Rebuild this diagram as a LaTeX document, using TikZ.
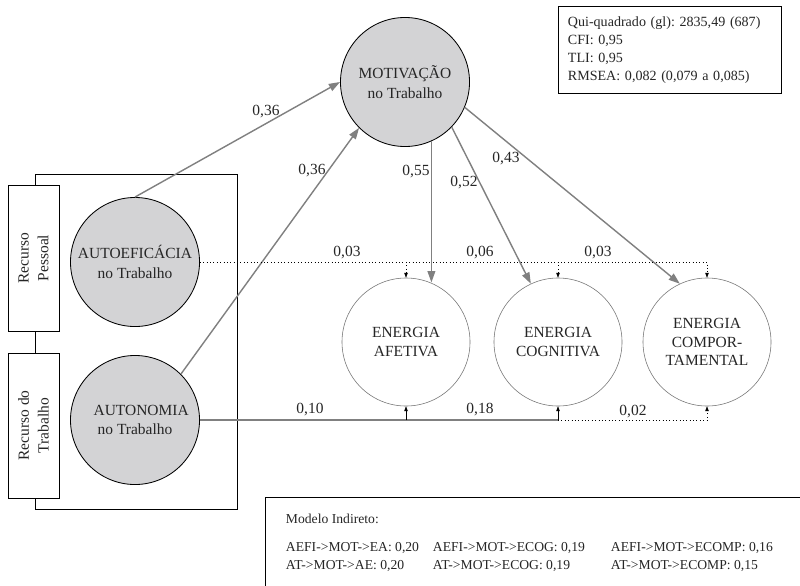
\documentclass[tikz,border=0pt]{standalone}
\usepackage{fontspec}
\setmainfont{Liberation Serif}
\usetikzlibrary{arrows.meta}
\definecolor{cinza}{RGB}{211,211,213}
\definecolor{linha}{RGB}{128,128,128}
\frenchspacing

\begin{document}
\begin{tikzpicture}[x=0.025cm,y=-0.025cm,font=\fontsize{11}{14}\selectfont,text=black!85,
    fator/.style={circle,draw,semithick,fill=cinza,minimum size=3.225cm,inner sep=0pt,align=center},
    energia/.style={circle,draw=black!55,minimum size=3.2cm,inner sep=0pt,align=center,font=\fontsize{11}{13}\selectfont},
    recurso/.style={draw,semithick,fill=white,rotate=90,minimum width=3.65cm,minimum height=1.275cm,inner sep=0pt,align=center},
    efeito/.style={draw=linha,line width=1pt,-{Triangle[length=8pt,width=5.5pt]}},
    residual/.style={dotted,thin,-{Triangle[length=3.5pt,width=2.5pt]}}]
  \useasboundingbox[fill=white] (0,0) rectangle (800,585);

  \draw[semithick] (35,174) rectangle (237,509);
  \node[recurso] (pessoal) at (33.5,258) {Recurso\\Pessoal};
  \node[recurso,minimum width=3.625cm] (trabalho) at (33.5,425.5) {Recurso do\\Trabalho};

  \node[fator] (mot) at (405,82) {MOTIVAÇÃO\\no Trabalho};
  \node[fator] (aef) at (135,262) {AUTOEFICÁCIA\\no Trabalho};
  \node[fator] (aut) at (135,420) {\hspace{0.8em}AUTONOMIA\\no Trabalho};
  \node[energia] (afe) at (406,342) {ENERGIA\\AFETIVA};
  \node[energia] (cog) at (558,342) {ENERGIA\\COGNITIVA};
  \node[energia] (com) at (707,342) {ENERGIA\\COMPOR-\\TAMENTAL};

  \draw[efeito] (aef.90) -- (mot.180);
  \draw[efeito] (aut.45) -- (mot.225);
  \draw[efeito] (mot.-66) -- (mot.-66 |- afe.68);
  \draw[efeito] (mot.-44) -- (cog.115);
  \draw[efeito] (mot.-23) -- (com.115);
  \node at (266,112) {0,36};
  \node at (312,171) {0,36};
  \node at (416,172) {0,55};
  \node at (464,183) {0,52};
  \node at (506,159) {0,43};

  \draw[residual] (aef.east) -| (com.north);
  \draw[residual] (afe.north |- aef.east) -- (afe.north);
  \draw[residual] (cog.north |- aef.east) -- (cog.north);
  \node at (347,253) {0,03};
  \node at (480,253) {0,06};
  \node at (598,253) {0,03};

  \draw[linha,line width=1pt] (aut.east) -- (cog.south |- aut.east);
  \draw[-{Triangle[length=3.5pt,width=2.5pt]},thin] (afe.south |- aut.east) -- (afe.south);
  \draw[-{Triangle[length=3.5pt,width=2.5pt]},thin] (cog.south |- aut.east) -- (cog.south);
  \draw[residual] (cog.south |- aut.east) -| (com.south);
  \node at (310,410) {0,10};
  \node at (480,410) {0,18};
  \node at (633,412) {0,02};

  \node[draw,semithick,anchor=north west,minimum width=5.575cm,minimum height=2.175cm,
    text width=5.1cm,align=left,font=\fontsize{10}{12.8}\selectfont] (ajuste) at (558,6)
    {Qui-quadrado (gl): 2835,49 (687)\\CFI: 0,95\\TLI: 0,95\\RMSEA: 0,082 (0,079 a 0,085)};

  \draw[semithick] (265,600) -- (265,497) -- (810,497);
  \begin{scope}[font=\fontsize{9.7}{12}\selectfont,anchor=west]
    \node (indireto) at (281,519) {Modelo Indireto:};
    \node at (281,548) {AEFI->MOT->EA: 0,20};
    \node at (281,566) {AT->MOT->AE: 0,20};
    \node at (428,548) {AEFI->MOT->ECOG: 0,19};
    \node at (428,566) {AT->MOT->ECOG: 0,19};
    \node at (606,548) {AEFI->MOT->ECOMP: 0,16};
    \node at (606,566) {AT->MOT->ECOMP: 0,15};
  \end{scope}
\end{tikzpicture}
\end{document}
